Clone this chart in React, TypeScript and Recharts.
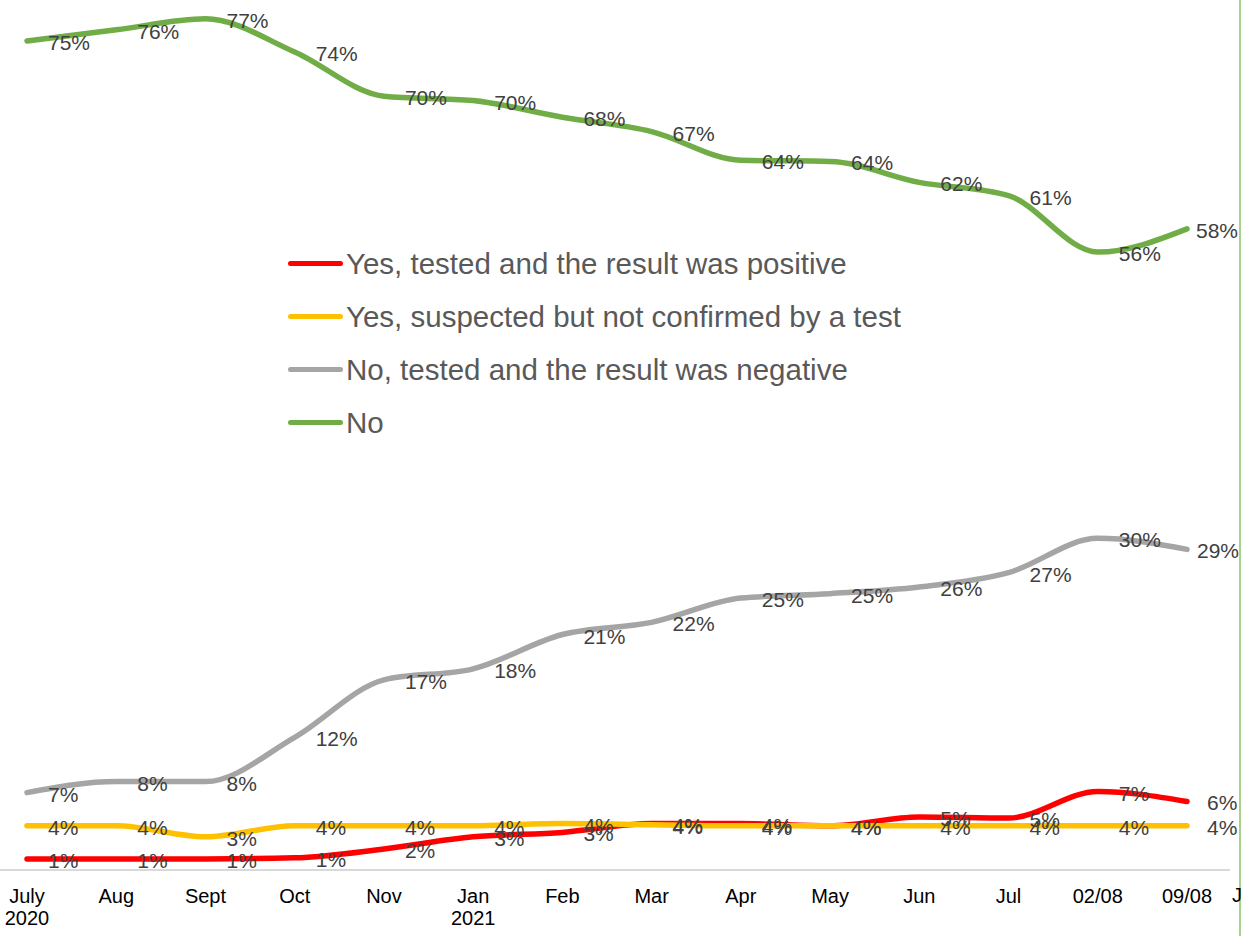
import React from 'react';
import { LineChart, Line, XAxis, YAxis, LabelList } from 'recharts';

const categories = ['July\n2020', 'Aug', 'Sept', 'Oct', 'Nov', 'Jan\n2021', 'Feb', 'Mar', 'Apr', 'May', 'Jun', 'Jul', '02/08', '09/08'];
const positive = [1, 1, 1, 1.1, 1.9, 3, 3.4, 4.2, 4.2, 4.0, 4.8, 4.7, 7.1, 6.2];
const suspected = [4, 4, 3, 4, 4, 4, 4.2, 4.1, 4, 4, 4, 4, 4, 4];
const negative = [7, 8, 8, 12, 17.2, 18.2, 21.3, 22.4, 24.6, 25, 25.6, 26.9, 30, 29];
const no = [75, 76, 77, 74, 70, 69.6, 68.1, 66.8, 64.2, 64.1, 62.2, 61, 55.9, 58];

const series = [
    { key: 'positive', name: 'Yes, tested and the result was positive', color: '#FF0000', lastDx: 20 },
    { key: 'suspected', name: 'Yes, suspected but not confirmed by a test', color: '#FFC000', lastDx: 20 },
    { key: 'negative', name: 'No, tested and the result was negative', color: '#A5A5A5', lastDx: 10 },
    { key: 'no', name: 'No', color: '#70AD47', lastDx: 9 },
];

const data = categories.map((c, i) => ({
    cat: c,
    positive: positive[i],
    suspected: suspected[i],
    negative: negative[i],
    no: no[i],
}));

const FONT = '"Liberation Sans", Arial, sans-serif';

const Tick = (props: any) => {
    const { x, y, payload } = props;
    const lines = String(payload.value).split('\n');
    return (
        <text x={x} y={y} textAnchor="middle" fontFamily={FONT} fontSize={20} fill="#000">
            {lines.map((l, i) => (
                <tspan key={i} x={x} dy={i === 0 ? 25 : 22}>
                    {l}
                </tspan>
            ))}
        </text>
    );
};

const makeLabel = (lastDx: number) => (props: any) => {
    const { x, y, value, index } = props;
    const dx = index === categories.length - 1 ? lastDx : 21;
    return (
        <text x={x + dx} y={y + 9} fontFamily={FONT} fontSize={21} fill="#404040">
            {Math.round(value)}%
        </text>
    );
};

const LegendBox = () => (
    <div style={{ position: 'absolute', left: 288, top: 237, fontFamily: FONT }}>
        {series.map((s) => (
            <div key={s.key} style={{ display: 'flex', alignItems: 'center', height: 53 }}>
                <div style={{ width: 55, height: 5, borderRadius: 3, background: s.color, marginRight: 3 }} />
                <span style={{ fontSize: 29.5, color: '#595959', whiteSpace: 'nowrap' }}>{s.name}</span>
            </div>
        ))}
    </div>
);

export default function App() {
    return (
        <div style={{ position: 'absolute', left: 0, top: 0, width: 1242, height: 936, background: '#fff' }}>
            <LineChart width={1242} height={936} data={data} margin={{ top: 0, right: 12, left: 0, bottom: 0 }}>
                <XAxis
                    dataKey="cat"
                    height={66}
                    padding={{ left: 27, right: 43 }}
                    axisLine={{ stroke: '#D9D9D9', strokeWidth: 2 }}
                    tickLine={false}
                    interval={0}
                    tick={<Tick />}
                />
                <YAxis hide type="number" domain={[0, 78.7]} allowDataOverflow />
                {series.map((s) => (
                    <Line
                        key={s.key}
                        type="monotone"
                        dataKey={s.key}
                        name={s.name}
                        stroke={s.color}
                        strokeWidth={5.5}
                        strokeLinecap="round"
                        dot={false}
                        activeDot={false}
                        isAnimationActive={false}
                    >
                        <LabelList dataKey={s.key} content={makeLabel(s.lastDx)} />
                    </Line>
                ))}
            </LineChart>
            <LegendBox />
            <div style={{ position: 'absolute', left: 1239, top: 0, width: 2, height: 936, background: '#A9D18E' }} />
            <div style={{ position: 'absolute', left: 1232, top: 884, fontFamily: FONT, fontSize: 20, color: '#000' }}>J</div>
        </div>
    );
}
